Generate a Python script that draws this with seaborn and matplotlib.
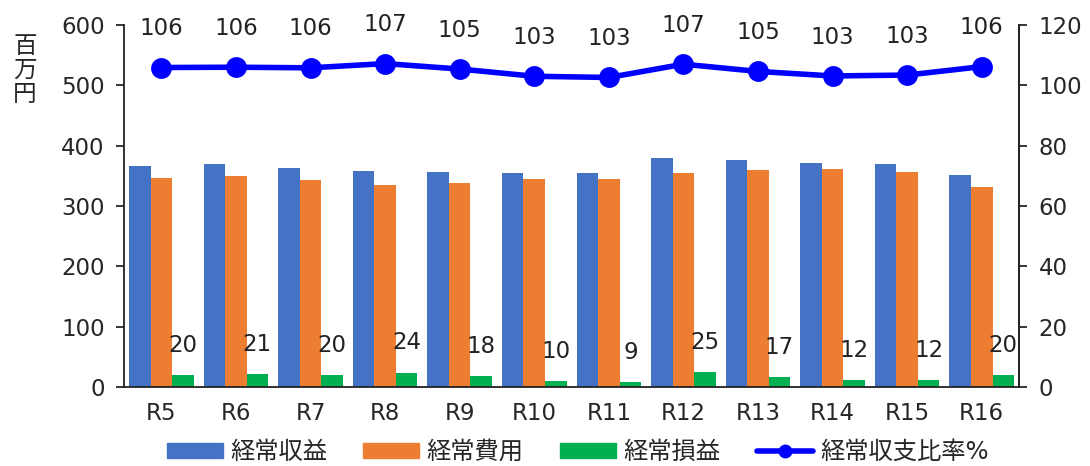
import pandas as pd
import matplotlib.pyplot as plt
import seaborn as sns
from matplotlib.lines import Line2D

# データ (百万円)
years = ['R5', 'R6', 'R7', 'R8', 'R9', 'R10', 'R11', 'R12', 'R13', 'R14', 'R15', 'R16']
income = [366, 370, 363, 358, 356, 355, 354, 379, 376, 372, 370, 352]
expense = [346, 349, 343, 334, 338, 345, 345, 354, 359, 361, 357, 331]
profit = [20, 21, 20, 24, 18, 10, 9, 25, 17, 12, 12, 20]
ratio = [105.9, 106.0, 105.8, 107.2, 105.4, 103.0, 102.6, 107.0, 104.6, 103.1, 103.4, 106.2]
ratio_labels = [106, 106, 106, 107, 105, 103, 103, 107, 105, 103, 103, 106]

series = ['経常収益', '経常費用', '経常損益']
colors = ['#4472C4', '#ED7D31', '#00B050']
line_color = '#0000FF'

df = pd.DataFrame({'年度': years * 3,
                   '値': income + expense + profit,
                   '区分': [s for s in series for _ in years]})

sns.set_style('white')
plt.rcParams['font.family'] = ['DejaVu Sans', 'Noto Sans CJK JP']
fs = 16.5

fig = plt.figure(figsize=(10.9, 4.66), dpi=100)
ax = fig.add_axes([0.1138, 0.1695, 0.8211, 0.7769])

sns.barplot(data=df, x='年度', y='値', hue='区分', hue_order=series,
            palette=colors, saturation=1, width=0.865, gap=0,
            edgecolor='none', ax=ax)
ax.get_legend().remove()

# 経常損益のラベル
ax.bar_label(ax.containers[2], labels=[str(v) for v in profit],
             padding=13, fontsize=fs, color='#222222')

ax.set_ylim(0, 600)
ax.set_yticks(range(0, 601, 100))
ax.set_xlabel('')
ax.set_ylabel('')
ax.tick_params(axis='y', length=6, width=1.3, pad=8, labelsize=fs, left=True)
ax.tick_params(axis='x', length=0, pad=11, labelsize=fs)

ax2 = ax.twinx()
sns.pointplot(x=years, y=ratio, color=line_color, markers='o',
              markersize=12, linewidth=4, ax=ax2)
ax2.set_ylim(0, 120)
ax2.set_yticks(range(0, 121, 20))
ax2.tick_params(axis='y', length=6, width=1.3, pad=8, labelsize=fs, right=True)
ax2.set_xlim(-0.5, len(years) - 0.5)

for i, (r, lab) in enumerate(zip(ratio, ratio_labels)):
    ax2.annotate(str(lab), (i, r), xytext=(0, 28), textcoords='offset points',
                 ha='center', va='center', fontsize=fs, color='#222222')

for a in (ax, ax2):
    a.spines['top'].set_visible(False)
    for s in a.spines.values():
        s.set_color('#222222')
        s.set_linewidth(1.3)
ax2.spines['left'].set_visible(False)
ax2.spines['bottom'].set_visible(False)

fig.text(25 / 1090, 1 - 70 / 466, '百\n万\n円', ha='center', va='center',
         fontsize=17, linespacing=1.0)

handles = [plt.Rectangle((0, 0), 1, 1, color=c) for c in colors]
handles.append(Line2D([], [], color=line_color, lw=4, marker='o', markersize=9))
fig.legend(handles, series + ['経常収支比率%'], loc='center',
           bbox_to_anchor=(0.53, 1 - 452 / 466), ncol=4, frameon=False,
           fontsize=17.5, handlelength=2.3, handleheight=0.6,
           handletextpad=0.3, columnspacing=1.5)

fig.savefig('out.png', dpi=100)
